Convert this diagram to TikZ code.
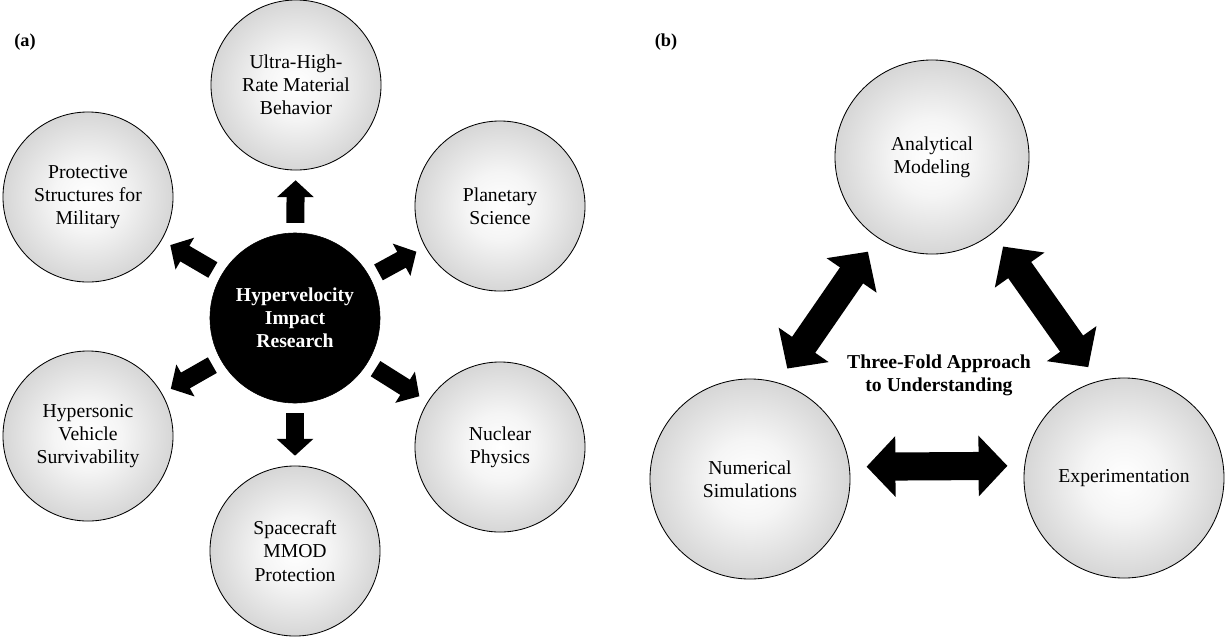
\documentclass[tikz,border=0pt]{standalone}
\usepackage{fontspec}
\setmainfont{Liberation Serif}
\usepackage{tikz}
\usetikzlibrary{arrows.meta,positioning,calc}

\pgfdeclareradialshading{sphere}{\pgfpoint{0bp}{0bp}}{color(0bp)=(white); color(10bp)=(black!4); color(25bp)=(black!16); color(36bp)=(black!30); color(50bp)=(black!40)}

\begin{document}
\begin{tikzpicture}[x=0.025cm,y=-0.025cm,
    ball/.style={circle,draw=black,line width=0.6pt,shading=sphere,inner sep=0pt,minimum size=4.25cm,align=center,font=\fontsize{14}{16.5}\selectfont},
    hub/.style={circle,draw=black,fill=black,inner sep=0pt,minimum size=4.25cm,align=center,text=white,font=\fontsize{14}{16.5}\selectfont\bfseries},
    spoke/.style={line width=12.8pt,-{Triangle[width=25.5pt,length=12pt]},shorten <=7pt,shorten >=7pt},
    link/.style={line width=20pt,{Triangle[width=42pt,length=20.5pt]}-{Triangle[width=42pt,length=20.5pt]},shorten <=12pt,shorten >=12pt},
    tag/.style={font=\fontsize{13}{15}\selectfont\bfseries}]
        \useasboundingbox (0,0) rectangle (1225,640);
        % (a) research areas
        \node[tag] (lbla) at (25,42) {(a)};
        \node[hub] (hvi) at (295,318) {Hypervelocity\\Impact\\Research};
        \node[ball] (uhr) at (296,85) {Ultra-High-\\Rate Material\\Behavior};
        \node[ball] (plan) at (500,206) {Planetary\\Science};
        \node[ball] (nuc) at (500,447) {Nuclear\\Physics};
        \node[ball] (mmod) at (295,551) {Spacecraft\\MMOD\\Protection};
        \node[ball] (hyp) at (88,436) {Hypersonic\\Vehicle\\Survivability};
        \node[ball] (mil) at (88,197) {Protective\\Structures for\\Military};
        \foreach \t in {uhr,plan,nuc,mmod,hyp,mil}
            \draw[spoke] (hvi) -- (\t);
        % (b) three-fold approach
        \node[tag] (lblb) at (666,42) {(b)};
        \node[ball,minimum size=4.85cm] (ana) at (932,157) {Analytical\\Modeling};
        \node[ball,minimum size=5cm] (num) at (750,479) {Numerical\\Simulations};
        \node[ball,minimum size=5cm] (exp) at (1124,478) {Experimentation};
        \node[align=center,font=\fontsize{14}{16.5}\selectfont\bfseries] (tfa) at (939,375) {Three-Fold Approach\\to Understanding};
        \draw[link] (num.74) -- (ana.236);
        \draw[link] (ana.309) -- (exp.105);
        \draw[link] (num.7) -- (exp.173);
    \end{tikzpicture}
\end{document}
